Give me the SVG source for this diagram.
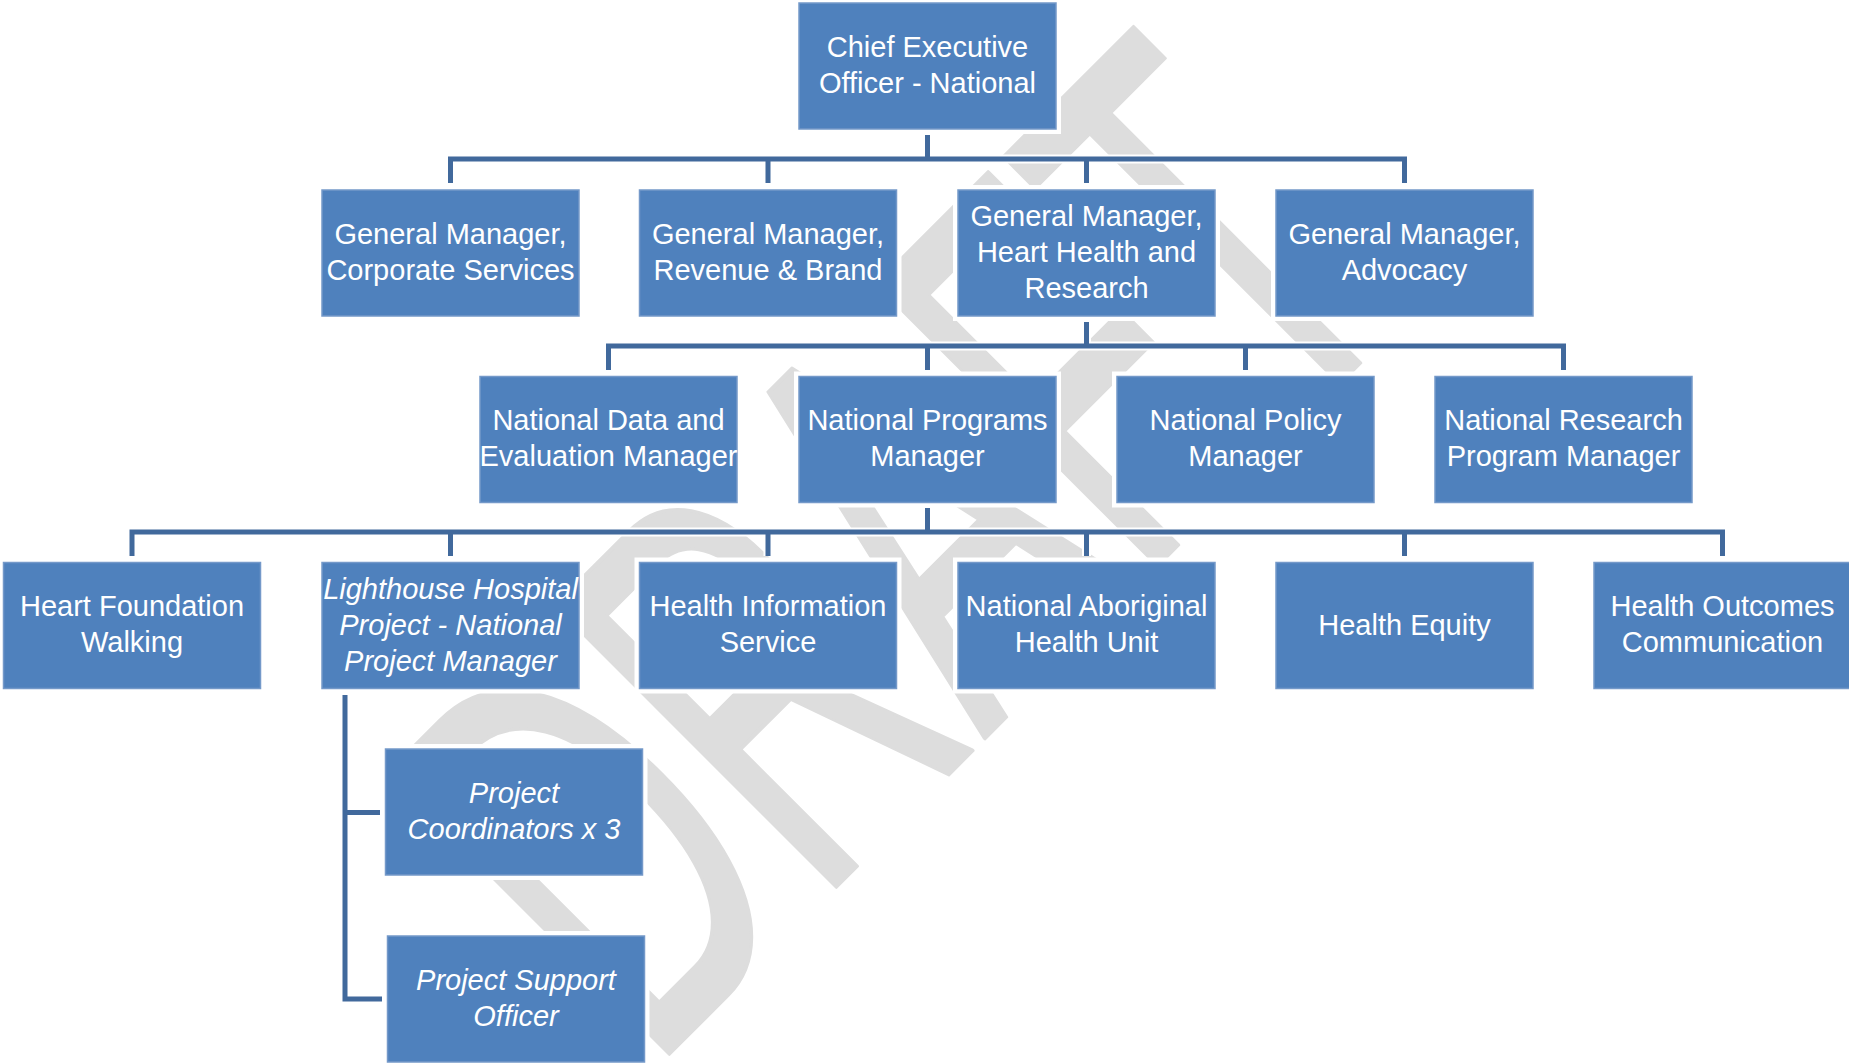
<svg xmlns="http://www.w3.org/2000/svg" width="1849" height="1064" viewBox="0 0 1849 1064">
  <style>
    .wm { font-family: "Liberation Sans", Arial, sans-serif; font-size: 578px; fill: #dddddd; stroke: #dddddd; stroke-width: 4; stroke-linejoin: round; }
    .casing { fill: #ffffff; }
    .box { fill: #4f81bd; stroke: #7499c9; stroke-width: 1.5; }
    .lbl { font-family: "Liberation Sans", Arial, sans-serif; font-size: 29px; fill: #ffffff; text-anchor: middle; }
    .it { font-style: italic; }
    .wire-case { fill: none; stroke: #ffffff; stroke-width: 9; }
    .wire { fill: none; stroke: #41699c; stroke-width: 5; stroke-linejoin: miter; }
  </style>
  <rect x="0" y="0" width="1849" height="1064" fill="#ffffff"/>

  <!-- watermark -->
  <text class="wm" transform="translate(667.5,1055.5) rotate(-45)" x="-25" y="0" textLength="1090" lengthAdjust="spacingAndGlyphs">DRAFT</text>

  <!-- connectors -->
  <g id="connectors">
    <path class="wire-case" d="M927.5,135 V159 M450.5,183 V159 H1404.5 V183 M768,159 V183 M1086.5,159 V183 M1086.5,322 V346 M608.5,370 V346 H1563.5 V370 M927.5,346 V370 M1245.5,346 V370 M927.5,508 V532 M132,556 V532 H1722.5 V556 M450.5,532 V556 M768,532 V556 M1086.5,532 V556 M1404.5,532 V556 M345,695 V999 H382 M345,812.5 H380"/>
    <path class="wire" d="M927.5,135 V159 M450.5,183 V159 H1404.5 V183 M768,159 V183 M1086.5,159 V183"/>
    <path class="wire" d="M1086.5,322 V346 M608.5,370 V346 H1563.5 V370 M927.5,346 V370 M1245.5,346 V370"/>
    <path class="wire" d="M927.5,508 V532 M132,556 V532 H1722.5 V556 M450.5,532 V556 M768,532 V556 M1086.5,532 V556 M1404.5,532 V556"/>
    <path class="wire" d="M345,695 V999 H382 M345,812.5 H380"/>
  </g>

  <!-- nodes -->
  <g id="ceo">
    <rect class="casing" x="794" y="-2" width="267" height="136"/>
    <rect class="box" x="799" y="3" width="257" height="126"/>
    <text class="lbl" x="927.5" y="57">Chief Executive</text>
    <text class="lbl" x="927.5" y="93">Officer - National</text>
  </g>

  <g id="gm-corporate">
    <rect class="casing" x="317" y="185" width="267" height="136"/>
    <rect class="box" x="322" y="190" width="257" height="126"/>
    <text class="lbl" x="450.5" y="244">General Manager,</text>
    <text class="lbl" x="450.5" y="280">Corporate Services</text>
  </g>
  <g id="gm-revenue">
    <rect class="casing" x="634.5" y="185" width="267" height="136"/>
    <rect class="box" x="639.5" y="190" width="257" height="126"/>
    <text class="lbl" x="768" y="244">General Manager,</text>
    <text class="lbl" x="768" y="280">Revenue &amp; Brand</text>
  </g>
  <g id="gm-heart">
    <rect class="casing" x="953" y="185" width="267" height="136"/>
    <rect class="box" x="958" y="190" width="257" height="126"/>
    <text class="lbl" x="1086.5" y="226">General Manager,</text>
    <text class="lbl" x="1086.5" y="262">Heart Health and</text>
    <text class="lbl" x="1086.5" y="298">Research</text>
  </g>
  <g id="gm-advocacy">
    <rect class="casing" x="1271" y="185" width="267" height="136"/>
    <rect class="box" x="1276" y="190" width="257" height="126"/>
    <text class="lbl" x="1404.5" y="244">General Manager,</text>
    <text class="lbl" x="1404.5" y="280">Advocacy</text>
  </g>

  <g id="nat-data">
    <rect class="casing" x="475" y="371.5" width="267" height="136"/>
    <rect class="box" x="480" y="376.5" width="257" height="126"/>
    <text class="lbl" x="608.5" y="430">National Data and</text>
    <text class="lbl" x="608.5" y="466">Evaluation Manager</text>
  </g>
  <g id="nat-programs">
    <rect class="casing" x="794" y="371.5" width="267" height="136"/>
    <rect class="box" x="799" y="376.5" width="257" height="126"/>
    <text class="lbl" x="927.5" y="430">National Programs</text>
    <text class="lbl" x="927.5" y="466">Manager</text>
  </g>
  <g id="nat-policy">
    <rect class="casing" x="1112" y="371.5" width="267" height="136"/>
    <rect class="box" x="1117" y="376.5" width="257" height="126"/>
    <text class="lbl" x="1245.5" y="430">National Policy</text>
    <text class="lbl" x="1245.5" y="466">Manager</text>
  </g>
  <g id="nat-research">
    <rect class="casing" x="1430" y="371.5" width="267" height="136"/>
    <rect class="box" x="1435" y="376.5" width="257" height="126"/>
    <text class="lbl" x="1563.5" y="430">National Research</text>
    <text class="lbl" x="1563.5" y="466">Program Manager</text>
  </g>

  <g id="hf-walking">
    <rect class="casing" x="-1.5" y="557.5" width="267" height="136"/>
    <rect class="box" x="3.5" y="562.5" width="257" height="126"/>
    <text class="lbl" x="132" y="616">Heart Foundation</text>
    <text class="lbl" x="132" y="652">Walking</text>
  </g>
  <g id="lighthouse">
    <rect class="casing" x="317" y="557.5" width="267" height="136"/>
    <rect class="box" x="322" y="562.5" width="257" height="126"/>
    <text class="lbl it" x="450.5" y="599">Lighthouse Hospital</text>
    <text class="lbl it" x="450.5" y="635">Project - National</text>
    <text class="lbl it" x="450.5" y="671">Project Manager</text>
  </g>
  <g id="health-info">
    <rect class="casing" x="634.5" y="557.5" width="267" height="136"/>
    <rect class="box" x="639.5" y="562.5" width="257" height="126"/>
    <text class="lbl" x="768" y="616">Health Information</text>
    <text class="lbl" x="768" y="652">Service</text>
  </g>
  <g id="aboriginal">
    <rect class="casing" x="953" y="557.5" width="267" height="136"/>
    <rect class="box" x="958" y="562.5" width="257" height="126"/>
    <text class="lbl" x="1086.5" y="616">National Aboriginal</text>
    <text class="lbl" x="1086.5" y="652">Health Unit</text>
  </g>
  <g id="health-equity">
    <rect class="casing" x="1271" y="557.5" width="267" height="136"/>
    <rect class="box" x="1276" y="562.5" width="257" height="126"/>
    <text class="lbl" x="1404.5" y="635">Health Equity</text>
  </g>
  <g id="health-outcomes">
    <rect class="casing" x="1589" y="557.5" width="267" height="136"/>
    <rect class="box" x="1594" y="562.5" width="257" height="126"/>
    <text class="lbl" x="1722.5" y="616">Health Outcomes</text>
    <text class="lbl" x="1722.5" y="652">Communication</text>
  </g>

  <g id="project-coordinators">
    <rect class="casing" x="380.5" y="744" width="267" height="136"/>
    <rect class="box" x="385.5" y="749" width="257" height="126"/>
    <text class="lbl it" x="514" y="803">Project</text>
    <text class="lbl it" x="514" y="839">Coordinators x 3</text>
  </g>
  <g id="project-support">
    <rect class="casing" x="382.5" y="931" width="267" height="136"/>
    <rect class="box" x="387.5" y="936" width="257" height="126"/>
    <text class="lbl it" x="516" y="990">Project Support</text>
    <text class="lbl it" x="516" y="1026">Officer</text>
  </g>
</svg>
